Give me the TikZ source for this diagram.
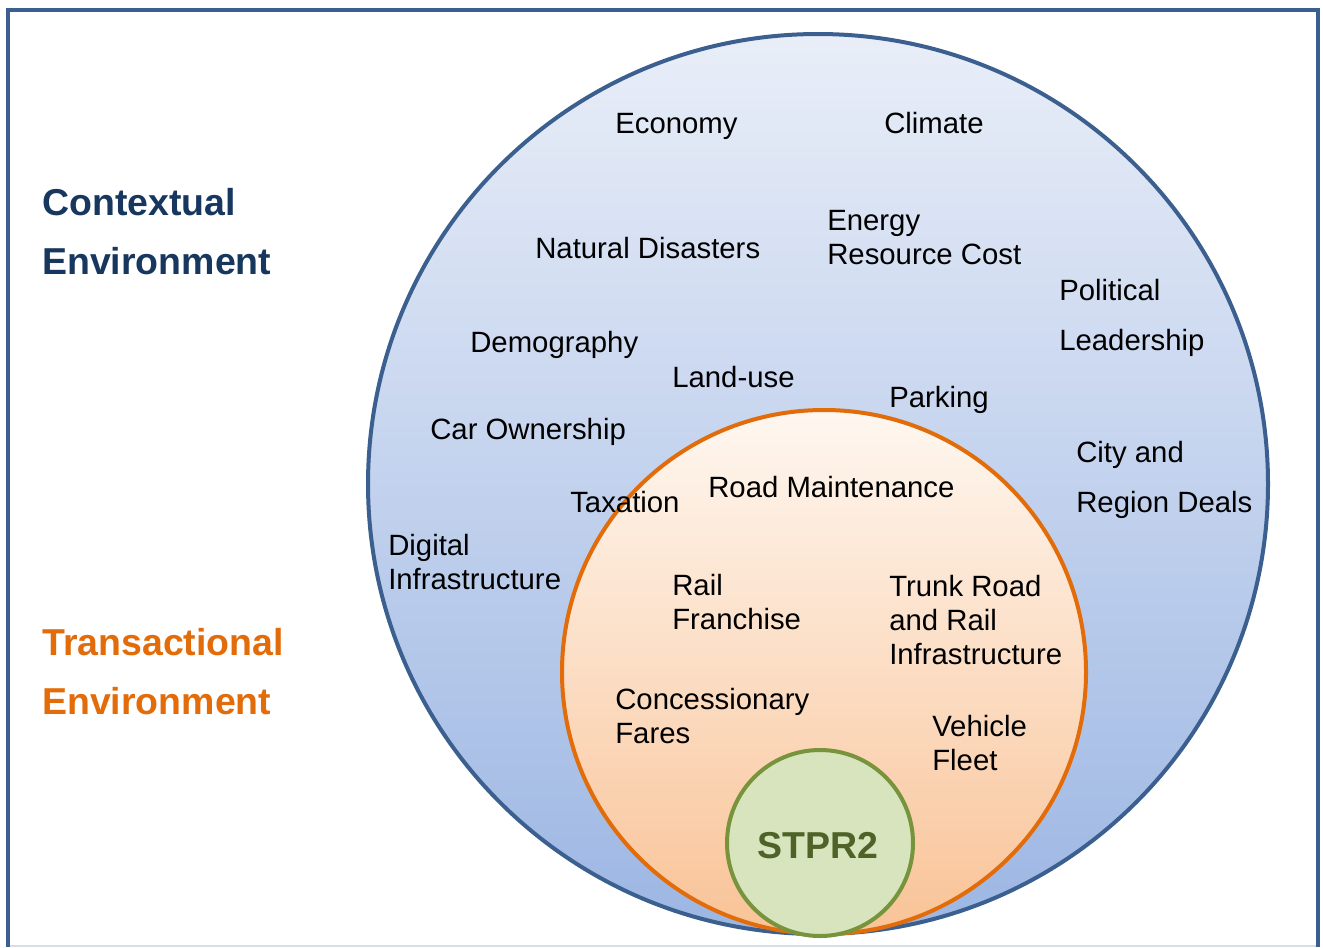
\documentclass[tikz,border=0pt]{standalone}
\usepackage{fontspec}
\setmainfont{Liberation Sans}
\definecolor{framec}{HTML}{3B5F8E}
\definecolor{blueline}{HTML}{3B5F8E}
\definecolor{bluetop}{HTML}{E9EEF8}
\definecolor{bluebot}{HTML}{9CB6E3}
\definecolor{orangeline}{HTML}{E36C0A}
\definecolor{orangetop}{HTML}{FEF7F0}
\definecolor{orangebot}{HTML}{F9C397}
\definecolor{greenfill}{HTML}{D7E4BD}
\definecolor{greenline}{HTML}{77933C}
\definecolor{greentext}{HTML}{4F6228}
\definecolor{ctxc}{HTML}{17375E}
\definecolor{bottomline}{HTML}{D6DEE8}
\tikzset{
  lbl/.style={anchor=base west, inner sep=0pt, align=left, text=black,
    font=\fontsize{22}{25.5}\selectfont},
  widelbl/.style={lbl, font=\fontsize{22}{37.5}\selectfont},
  heading/.style={anchor=base west, inner sep=0pt, align=left,
    font=\fontsize{28.1}{44.25}\selectfont\bfseries},
  ring/.style={line width=3pt}
}
\begin{document}
\begin{tikzpicture}[x=0.75pt,y=-0.75pt]
\useasboundingbox (0,0) rectangle (1323,947);
% frame
\draw[bottomline, line width=1.5pt] (8,946) -- (1320,946);
\draw[framec, line width=3pt] (8,947) -- (8,10) -- (1318,10) -- (1318,947);
% circles
\shade[top color=bluetop, bottom color=bluebot] (818,484) circle (450);
\draw[blueline, ring] (818,484) circle (450);
\shade[top color=orangetop, bottom color=orangebot] (824,672) circle (262);
\draw[orangeline, ring] (824,672) circle (262);
\node[circle, draw=greenline, fill=greenfill, line width=3pt, minimum size=186*0.75pt,
  inner sep=0pt] (stpr) at (820,843) {};
\node[text=greentext, font=\fontsize{28.1}{30}\selectfont\bfseries, inner sep=0pt]
  (stprtext) at (818,846) {STPR2};
% headings
\node[heading, text=ctxc] (ctx) at (42,274) {Contextual\\Environment};
\node[heading, text=orangeline] (trans) at (42,714) {Transactional\\Environment};
% contextual labels
\node[lbl] (economy) at (615,133.5) {Economy};
\node[lbl] (climate) at (884,133.5) {Climate};
\node[lbl] (natural) at (535,258.5) {Natural Disasters};
\node[lbl] (energy) at (827,264.5) {Energy\\Resource Cost};
\node[widelbl] (political) at (1059,350.5) {Political\\Leadership};
\node[lbl] (demography) at (470,352.5) {Demography};
\node[lbl] (landuse) at (672,387.5) {Land-use};
\node[lbl] (parking) at (889,407.5) {Parking};
\node[lbl] (carown) at (430,439.5) {Car Ownership};
\node[widelbl] (city) at (1076,512.5) {City and\\Region Deals};
\node[lbl] (taxation) at (570,512.5) {Taxation};
\node[lbl] (digital) at (388,589.5) {Digital\\Infrastructure};
% transactional labels
\node[lbl] (road) at (708,497.5) {Road Maintenance};
\node[lbl] (rail) at (672,629.5) {Rail\\Franchise};
\node[lbl] (trunk) at (889,664.5) {Trunk Road\\and Rail\\Infrastructure};
\node[lbl] (fares) at (615,743.5) {Concessionary\\Fares};
\node[lbl] (fleet) at (932,770.5) {Vehicle\\Fleet};
\end{tikzpicture}
\end{document}
